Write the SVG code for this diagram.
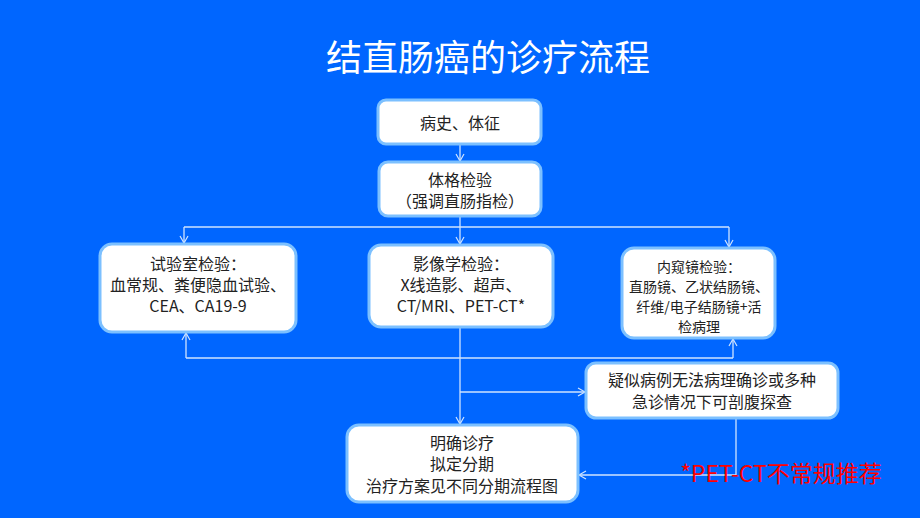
<svg xmlns="http://www.w3.org/2000/svg" width="920" height="518" viewBox="0 0 920 518">
<style>
text{font-family:"Noto Sans CJK SC","Noto Sans",sans-serif;text-anchor:middle}
.n rect{fill:#fff;stroke:#7cc0ff;stroke-width:3}
.n text{font-size:16px;fill:#222}
.n .s{font-size:14px}
.c{stroke:#cfe4ff;stroke-width:1.3;fill:none}
</style>
<defs><marker id="a" markerWidth="10" markerHeight="10" refX="8" refY="5" orient="auto" markerUnits="userSpaceOnUse"><path d="M1,1 L8,5 L1,9" fill="none" stroke="#cfe4ff" stroke-width="1.2"/></marker></defs>
<rect width="920" height="518" fill="#0066ff"/>
<text x="488" y="71" font-size="36" fill="#fff">结直肠癌的诊疗流程</text>
<g id="connectors">
<path class="c" d="M460,144 V161" marker-end="url(#a)"/>
<path class="c" d="M460,216 V244" marker-end="url(#a)"/>
<path class="c" d="M184,227 H729"/>
<path class="c" d="M184,227 V243" marker-end="url(#a)"/>
<path class="c" d="M729,227 V247" marker-end="url(#a)"/>
<path class="c" d="M460,327 V424" marker-end="url(#a)"/>
<path class="c" d="M186,358 H733"/>
<path class="c" d="M186,358 V333" marker-end="url(#a)"/>
<path class="c" d="M733,358 V339" marker-end="url(#a)"/>
<path class="c" d="M460,392 H585" marker-end="url(#a)"/>
<path class="c" d="M736,418 V475 H579" marker-end="url(#a)"/>
</g>
<g id="n1" class="n"><rect x="378" y="100" width="163" height="44" rx="8" stroke="none"/><text x="460" y="129" font-size="20">病史、体征</text></g>
<g id="n2" class="n"><rect x="379" y="162" width="162" height="54" rx="9"/><text x="460" y="186">体格检验</text><text x="460" y="207">（强调直肠指检）</text></g>
<g id="n3" class="n"><rect x="100" y="244" width="196" height="88" rx="12"/><text x="198" y="270">试验室检验：</text><text x="198" y="291">血常规、粪便隐血试验、</text><text x="198" y="312">CEA、CA19-9</text></g>
<g id="n4" class="n"><rect x="369" y="245" width="184" height="82" rx="12"/><text x="461" y="270">影像学检验：</text><text x="461" y="291">X线造影、超声、</text><text x="461" y="312">CT/MRI、PET-CT*</text></g>
<g id="n5" class="n"><rect x="622" y="248" width="153" height="90" rx="12"/><text class="s" x="699" y="272">内窥镜检验：</text><text class="s" x="699" y="292">直肠镜、乙状结肠镜、</text><text class="s" x="699" y="312">纤维/电子结肠镜+活</text><text class="s" x="699" y="332">检病理</text></g>
<g id="n6" class="n"><rect x="586" y="363" width="252" height="55" rx="10"/><text x="712" y="386">疑似病例无法病理确诊或多种</text><text x="712" y="408">急诊情况下可剖腹探查</text></g>
<g id="n7" class="n"><rect x="347" y="425" width="231" height="77" rx="12"/><text x="462" y="449">明确诊疗</text><text x="462" y="470">拟定分期</text><text x="462" y="492">治疗方案见不同分期流程图</text></g>
<text x="781" y="482" font-size="23" fill="#ff0000">*PET-CT不常规推荐</text>
</svg>
